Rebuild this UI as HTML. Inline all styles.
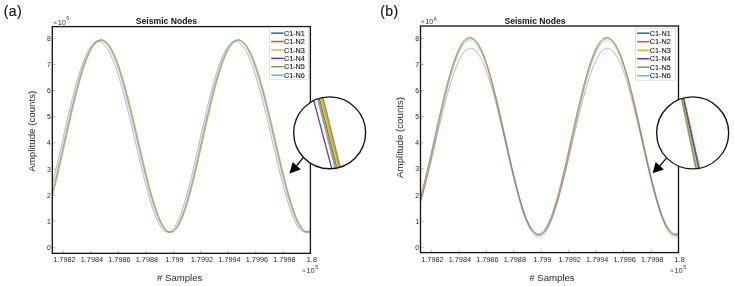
<!DOCTYPE html>
<html><head><meta charset="utf-8"><title>Seismic Nodes</title>
<style>html,body{margin:0;padding:0;background:#fff}svg{display:block;will-change:transform}text{font-family:"Liberation Sans",Arial,Helvetica,sans-serif}</style>
</head><body>
<svg width="734" height="286" viewBox="0 0 734 286">
<rect width="734" height="286" fill="#fff"/>
<g id="plot1">
<clipPath id="ax1"><rect x="52.3" y="26.6" width="258.09999999999997" height="226.75"/></clipPath>
<g clip-path="url(#ax1)" fill="none" stroke-width="0.45" stroke-linejoin="round">
<path d="M47.66 208.39 L48.70 205.12 L49.75 201.67 L50.79 198.06 L51.84 194.30 L52.89 190.38 L53.94 186.33 L54.99 182.16 L56.04 177.86 L57.10 173.46 L58.15 168.97 L59.21 164.40 L60.27 159.75 L61.34 155.04 L62.41 150.29 L63.48 145.49 L64.55 140.68 L65.62 135.85 L66.70 131.03 L67.78 126.22 L68.86 121.43 L69.95 116.68 L71.04 111.98 L72.13 107.34 L73.23 102.77 L74.33 98.28 L75.43 93.90 L76.53 89.61 L77.64 85.45 L78.75 81.41 L79.86 77.52 L80.98 73.77 L82.10 70.18 L83.22 66.75 L84.34 63.50 L85.47 60.43 L86.60 57.56 L87.73 54.88 L88.86 52.41 L90.00 50.15 L91.14 48.10 L92.28 46.28 L93.42 44.69 L94.57 43.32 L95.71 42.19 L96.86 41.30 L98.01 40.65 L99.16 40.24 L100.31 40.07 L101.47 40.14 L102.62 40.46 L103.78 41.02 L104.93 41.82 L106.09 42.85 L107.24 44.12 L108.40 45.63 L109.56 47.36 L110.72 49.32 L111.87 51.49 L113.03 53.88 L114.18 56.48 L115.34 59.28 L116.49 62.27 L117.65 65.45 L118.80 68.81 L119.95 72.34 L121.10 76.03 L122.25 79.87 L123.39 83.85 L124.54 87.97 L125.68 92.20 L126.82 96.55 L127.96 101.00 L129.10 105.53 L130.23 110.15 L131.36 114.83 L132.49 119.56 L133.62 124.33 L134.74 129.14 L135.87 133.96 L136.98 138.79 L138.10 143.61 L139.21 148.41 L140.32 153.18 L141.43 157.91 L142.54 162.58 L143.64 167.19 L144.74 171.71 L145.83 176.15 L146.92 180.49 L148.01 184.71 L149.10 188.81 L150.18 192.78 L151.26 196.60 L152.34 200.28 L153.42 203.79 L154.49 207.13 L155.56 210.29 L156.63 213.26 L157.69 216.04 L158.75 218.61 L159.81 220.98 L160.87 223.13 L161.93 225.06 L162.98 226.77 L164.03 228.25 L165.08 229.50 L166.13 230.51 L167.18 231.28 L168.22 231.81 L169.26 232.10 L170.31 232.15 L171.35 231.96 L172.39 231.52 L173.43 230.84 L174.47 229.92 L175.51 228.77 L176.55 227.38 L177.58 225.76 L178.62 223.92 L179.66 221.85 L180.70 219.56 L181.74 217.07 L182.78 214.37 L183.82 211.47 L184.86 208.39 L185.90 205.12 L186.95 201.67 L187.99 198.06 L189.04 194.30 L190.09 190.38 L191.14 186.33 L192.19 182.16 L193.24 177.86 L194.30 173.46 L195.35 168.97 L196.41 164.40 L197.47 159.75 L198.54 155.04 L199.61 150.29 L200.68 145.49 L201.75 140.68 L202.82 135.85 L203.90 131.03 L204.98 126.22 L206.06 121.43 L207.15 116.68 L208.24 111.98 L209.33 107.34 L210.43 102.77 L211.53 98.28 L212.63 93.90 L213.73 89.61 L214.84 85.45 L215.95 81.41 L217.06 77.52 L218.18 73.77 L219.30 70.18 L220.42 66.75 L221.54 63.50 L222.67 60.43 L223.80 57.56 L224.93 54.88 L226.06 52.41 L227.20 50.15 L228.34 48.10 L229.48 46.28 L230.62 44.69 L231.77 43.32 L232.91 42.19 L234.06 41.30 L235.21 40.65 L236.36 40.24 L237.51 40.07 L238.67 40.14 L239.82 40.46 L240.98 41.02 L242.13 41.82 L243.29 42.85 L244.44 44.12 L245.60 45.63 L246.76 47.36 L247.92 49.32 L249.07 51.49 L250.23 53.88 L251.38 56.48 L252.54 59.28 L253.69 62.27 L254.85 65.45 L256.00 68.81 L257.15 72.34 L258.30 76.03 L259.45 79.87 L260.59 83.85 L261.74 87.97 L262.88 92.20 L264.02 96.55 L265.16 101.00 L266.30 105.53 L267.43 110.15 L268.56 114.83 L269.69 119.56 L270.82 124.33 L271.94 129.14 L273.07 133.96 L274.18 138.79 L275.30 143.61 L276.41 148.41 L277.52 153.18 L278.63 157.91 L279.74 162.58 L280.84 167.19 L281.94 171.71 L283.03 176.15 L284.12 180.49 L285.21 184.71 L286.30 188.81 L287.38 192.78 L288.46 196.60 L289.54 200.28 L290.62 203.79 L291.69 207.13 L292.76 210.29 L293.83 213.26 L294.89 216.04 L295.95 218.61 L297.01 220.98 L298.07 223.13 L299.13 225.06 L300.18 226.77 L301.23 228.25 L302.28 229.50 L303.33 230.51 L304.38 231.28 L305.42 231.81 L306.46 232.10 L307.51 232.15 L308.55 231.96 L309.59 231.52 L310.63 230.84 L311.67 229.92 L312.71 228.77 L313.75 227.38 L314.78 225.76 L315.82 223.92" stroke="#0072BD" stroke-width="0.45"/>
<path d="M47.68 209.53 L48.72 206.33 L49.77 202.95 L50.81 199.40 L51.86 195.69 L52.90 191.83 L53.95 187.83 L55.00 183.69 L56.06 179.44 L57.11 175.08 L58.17 170.62 L59.23 166.07 L60.29 161.45 L61.35 156.76 L62.42 152.02 L63.49 147.24 L64.56 142.44 L65.63 137.61 L66.71 132.79 L67.79 127.97 L68.87 123.17 L69.96 118.40 L71.04 113.68 L72.13 109.02 L73.23 104.42 L74.33 99.91 L75.43 95.48 L76.53 91.16 L77.64 86.95 L78.74 82.87 L79.86 78.92 L80.97 75.12 L82.09 71.47 L83.21 67.98 L84.33 64.66 L85.46 61.53 L86.59 58.58 L87.72 55.83 L88.85 53.28 L89.99 50.94 L91.12 48.82 L92.26 46.92 L93.41 45.24 L94.55 43.79 L95.70 42.58 L96.84 41.60 L97.99 40.86 L99.14 40.36 L100.29 40.10 L101.45 40.09 L102.60 40.32 L103.76 40.79 L104.91 41.50 L106.07 42.45 L107.22 43.63 L108.38 45.05 L109.54 46.70 L110.69 48.58 L111.85 50.68 L113.01 52.99 L114.16 55.51 L115.32 58.24 L116.47 61.16 L117.63 64.27 L118.78 67.57 L119.93 71.03 L121.08 74.67 L122.23 78.45 L123.38 82.38 L124.52 86.45 L125.66 90.65 L126.81 94.95 L127.95 99.37 L129.08 103.87 L130.22 108.46 L131.35 113.12 L132.48 117.83 L133.61 122.59 L134.73 127.39 L135.86 132.20 L136.98 137.03 L138.09 141.85 L139.21 146.66 L140.32 151.45 L141.43 156.19 L142.53 160.89 L143.64 165.52 L144.74 170.07 L145.83 174.54 L146.93 178.92 L148.02 183.19 L149.10 187.33 L150.19 191.35 L151.27 195.23 L152.35 198.96 L153.43 202.53 L154.50 205.93 L155.57 209.16 L156.64 212.20 L157.70 215.05 L158.77 217.70 L159.83 220.14 L160.89 222.37 L161.94 224.39 L163.00 226.18 L164.05 227.74 L165.10 229.07 L166.15 230.17 L167.19 231.03 L168.24 231.65 L169.28 232.03 L170.33 232.16 L171.37 232.05 L172.41 231.71 L173.45 231.12 L174.49 230.29 L175.53 229.22 L176.57 227.91 L177.61 226.38 L178.64 224.61 L179.68 222.63 L180.72 220.42 L181.76 218.00 L182.80 215.38 L183.84 212.55 L184.88 209.53 L185.92 206.33 L186.97 202.95 L188.01 199.40 L189.06 195.69 L190.10 191.83 L191.15 187.83 L192.20 183.69 L193.26 179.44 L194.31 175.08 L195.37 170.62 L196.43 166.07 L197.49 161.45 L198.55 156.76 L199.62 152.02 L200.69 147.24 L201.76 142.44 L202.83 137.61 L203.91 132.79 L204.99 127.97 L206.07 123.17 L207.16 118.40 L208.24 113.68 L209.33 109.02 L210.43 104.42 L211.53 99.91 L212.63 95.48 L213.73 91.16 L214.84 86.95 L215.94 82.87 L217.06 78.92 L218.17 75.12 L219.29 71.47 L220.41 67.98 L221.53 64.66 L222.66 61.53 L223.79 58.58 L224.92 55.83 L226.05 53.28 L227.19 50.94 L228.32 48.82 L229.46 46.92 L230.61 45.24 L231.75 43.79 L232.90 42.58 L234.04 41.60 L235.19 40.86 L236.34 40.36 L237.49 40.10 L238.65 40.09 L239.80 40.32 L240.96 40.79 L242.11 41.50 L243.27 42.45 L244.42 43.63 L245.58 45.05 L246.74 46.70 L247.89 48.58 L249.05 50.68 L250.21 52.99 L251.36 55.51 L252.52 58.24 L253.67 61.16 L254.83 64.27 L255.98 67.57 L257.13 71.03 L258.28 74.67 L259.43 78.45 L260.58 82.38 L261.72 86.45 L262.86 90.65 L264.01 94.95 L265.15 99.37 L266.28 103.87 L267.42 108.46 L268.55 113.12 L269.68 117.83 L270.81 122.59 L271.93 127.39 L273.06 132.20 L274.18 137.03 L275.29 141.85 L276.41 146.66 L277.52 151.45 L278.63 156.19 L279.73 160.89 L280.84 165.52 L281.94 170.07 L283.03 174.54 L284.13 178.92 L285.22 183.19 L286.30 187.33 L287.39 191.35 L288.47 195.23 L289.55 198.96 L290.63 202.53 L291.70 205.93 L292.77 209.16 L293.84 212.20 L294.90 215.05 L295.97 217.70 L297.03 220.14 L298.09 222.37 L299.14 224.39 L300.20 226.18 L301.25 227.74 L302.30 229.07 L303.35 230.17 L304.39 231.03 L305.44 231.65 L306.48 232.03 L307.53 232.16 L308.57 232.05 L309.61 231.71 L310.65 231.12 L311.69 230.29 L312.73 229.22 L313.77 227.91 L314.81 226.38 L315.84 224.61" stroke="#D95319" stroke-width="0.45"/>
<path d="M47.70 210.52 L48.74 207.37 L49.78 204.05 L50.83 200.55 L51.87 196.89 L52.92 193.07 L53.97 189.12 L55.02 185.02 L56.07 180.81 L57.12 176.48 L58.18 172.05 L59.24 167.53 L60.30 162.93 L61.36 158.26 L62.43 153.54 L63.49 148.77 L64.57 143.97 L65.64 139.15 L66.71 134.32 L67.79 129.50 L68.87 124.70 L69.96 119.92 L71.05 115.18 L72.14 110.50 L73.23 105.88 L74.33 101.34 L75.42 96.88 L76.53 92.53 L77.63 88.28 L78.74 84.16 L79.85 80.16 L80.97 76.31 L82.08 72.61 L83.20 69.07 L84.32 65.70 L85.45 62.51 L86.58 59.50 L87.71 56.69 L88.84 54.07 L89.97 51.67 L91.11 49.47 L92.25 47.50 L93.39 45.75 L94.53 44.23 L95.68 42.94 L96.83 41.89 L97.98 41.07 L99.13 40.49 L100.28 40.16 L101.43 40.07 L102.58 40.22 L103.74 40.61 L104.89 41.25 L106.05 42.12 L107.20 43.23 L108.36 44.58 L109.52 46.15 L110.67 47.96 L111.83 49.98 L112.99 52.23 L114.14 54.69 L115.30 57.35 L116.45 60.21 L117.61 63.26 L118.76 66.50 L119.91 69.91 L121.06 73.49 L122.21 77.23 L123.36 81.12 L124.51 85.14 L125.65 89.30 L126.79 93.57 L127.93 97.95 L129.07 102.43 L130.21 106.99 L131.34 111.62 L132.47 116.32 L133.60 121.07 L134.73 125.85 L135.85 130.66 L136.97 135.49 L138.09 140.32 L139.20 145.13 L140.32 149.93 L141.42 154.68 L142.53 159.39 L143.63 164.05 L144.74 168.63 L145.83 173.13 L146.93 177.54 L148.02 181.84 L149.11 186.02 L150.19 190.08 L151.28 194.01 L152.36 197.78 L153.43 201.41 L154.51 204.86 L155.58 208.15 L156.65 211.25 L157.71 214.16 L158.78 216.87 L159.84 219.38 L160.90 221.68 L161.96 223.77 L163.01 225.63 L164.06 227.27 L165.11 228.67 L166.16 229.84 L167.21 230.78 L168.26 231.48 L169.30 231.93 L170.34 232.14 L171.39 232.12 L172.43 231.84 L173.47 231.33 L174.51 230.58 L175.55 229.58 L176.59 228.35 L177.62 226.89 L178.66 225.20 L179.70 223.28 L180.74 221.15 L181.78 218.80 L182.82 216.24 L183.86 213.47 L184.90 210.52 L185.94 207.37 L186.98 204.05 L188.03 200.55 L189.07 196.89 L190.12 193.07 L191.17 189.12 L192.22 185.02 L193.27 180.81 L194.32 176.48 L195.38 172.05 L196.44 167.53 L197.50 162.93 L198.56 158.26 L199.63 153.54 L200.69 148.77 L201.77 143.97 L202.84 139.15 L203.91 134.32 L204.99 129.50 L206.07 124.70 L207.16 119.92 L208.25 115.18 L209.34 110.50 L210.43 105.88 L211.53 101.34 L212.62 96.88 L213.73 92.53 L214.83 88.28 L215.94 84.16 L217.05 80.16 L218.17 76.31 L219.28 72.61 L220.40 69.07 L221.52 65.70 L222.65 62.51 L223.78 59.50 L224.91 56.69 L226.04 54.07 L227.17 51.67 L228.31 49.47 L229.45 47.50 L230.59 45.75 L231.73 44.23 L232.88 42.94 L234.03 41.89 L235.18 41.07 L236.33 40.49 L237.48 40.16 L238.63 40.07 L239.78 40.22 L240.94 40.61 L242.09 41.25 L243.25 42.12 L244.40 43.23 L245.56 44.58 L246.72 46.15 L247.87 47.96 L249.03 49.98 L250.19 52.23 L251.34 54.69 L252.50 57.35 L253.65 60.21 L254.81 63.26 L255.96 66.50 L257.11 69.91 L258.26 73.49 L259.41 77.23 L260.56 81.12 L261.71 85.14 L262.85 89.30 L263.99 93.57 L265.13 97.95 L266.27 102.43 L267.41 106.99 L268.54 111.62 L269.67 116.32 L270.80 121.07 L271.93 125.85 L273.05 130.66 L274.17 135.49 L275.29 140.32 L276.40 145.13 L277.52 149.93 L278.62 154.68 L279.73 159.39 L280.83 164.05 L281.94 168.63 L283.03 173.13 L284.13 177.54 L285.22 181.84 L286.31 186.02 L287.39 190.08 L288.48 194.01 L289.56 197.78 L290.63 201.41 L291.71 204.86 L292.78 208.15 L293.85 211.25 L294.91 214.16 L295.98 216.87 L297.04 219.38 L298.10 221.68 L299.16 223.77 L300.21 225.63 L301.26 227.27 L302.31 228.67 L303.36 229.84 L304.41 230.78 L305.46 231.48 L306.50 231.93 L307.54 232.14 L308.59 232.12 L309.63 231.84 L310.67 231.33 L311.71 230.58 L312.75 229.58 L313.79 228.35 L314.82 226.89 L315.86 225.20" stroke="#EDB120" stroke-width="0.45"/>
<path d="M47.55 201.87 L48.60 198.28 L49.64 194.54 L50.69 190.65 L51.74 186.63 L52.79 182.48 L53.84 178.21 L54.90 173.84 L55.96 169.38 L57.02 164.84 L58.08 160.22 L59.14 155.54 L60.21 150.82 L61.28 146.06 L62.35 141.28 L63.43 136.49 L64.51 131.69 L65.59 126.91 L66.67 122.16 L67.76 117.44 L68.85 112.77 L69.94 108.16 L71.03 103.63 L72.13 99.17 L73.23 94.82 L74.34 90.56 L75.44 86.43 L76.55 82.42 L77.67 78.55 L78.78 74.83 L79.90 71.26 L81.02 67.86 L82.15 64.63 L83.27 61.59 L84.40 58.73 L85.53 56.07 L86.67 53.62 L87.81 51.37 L88.94 49.34 L90.08 47.54 L91.23 45.95 L92.37 44.60 L93.52 43.48 L94.67 42.60 L95.82 41.95 L96.97 41.54 L98.12 41.38 L99.27 41.45 L100.43 41.76 L101.58 42.32 L102.74 43.11 L103.89 44.14 L105.05 45.41 L106.21 46.90 L107.36 48.62 L108.52 50.57 L109.68 52.73 L110.83 55.11 L111.99 57.69 L113.14 60.47 L114.30 63.44 L115.45 66.60 L116.60 69.94 L117.75 73.44 L118.90 77.11 L120.05 80.92 L121.20 84.88 L122.34 88.96 L123.49 93.17 L124.63 97.49 L125.77 101.91 L126.90 106.41 L128.04 111.00 L129.17 115.64 L130.30 120.35 L131.42 125.09 L132.55 129.86 L133.67 134.65 L134.79 139.44 L135.91 144.23 L137.02 149.00 L138.13 153.74 L139.24 158.43 L140.34 163.07 L141.44 167.65 L142.54 172.14 L143.64 176.55 L144.73 180.86 L145.82 185.05 L146.90 189.12 L147.99 193.06 L149.07 196.86 L150.15 200.51 L151.22 203.99 L152.29 207.31 L153.36 210.45 L154.43 213.40 L155.50 216.16 L156.56 218.71 L157.62 221.06 L158.68 223.20 L159.73 225.12 L160.78 226.82 L161.84 228.28 L162.89 229.52 L163.93 230.52 L164.98 231.29 L166.03 231.82 L167.07 232.10 L168.11 232.15 L169.15 231.96 L170.19 231.52 L171.23 230.85 L172.27 229.93 L173.31 228.79 L174.35 227.41 L175.39 225.80 L176.43 223.96 L177.47 221.91 L178.50 219.64 L179.54 217.16 L180.58 214.48 L181.62 211.60 L182.66 208.53 L183.71 205.29 L184.75 201.87 L185.80 198.28 L186.84 194.54 L187.89 190.65 L188.94 186.63 L189.99 182.48 L191.04 178.21 L192.10 173.84 L193.16 169.38 L194.22 164.84 L195.28 160.22 L196.34 155.54 L197.41 150.82 L198.48 146.06 L199.55 141.28 L200.63 136.49 L201.71 131.69 L202.79 126.91 L203.87 122.16 L204.96 117.44 L206.05 112.77 L207.14 108.16 L208.23 103.63 L209.33 99.17 L210.43 94.82 L211.54 90.56 L212.64 86.43 L213.75 82.42 L214.87 78.55 L215.98 74.83 L217.10 71.26 L218.22 67.86 L219.35 64.63 L220.47 61.59 L221.60 58.73 L222.73 56.07 L223.87 53.62 L225.01 51.37 L226.14 49.34 L227.28 47.54 L228.43 45.95 L229.57 44.60 L230.72 43.48 L231.87 42.60 L233.02 41.95 L234.17 41.54 L235.32 41.38 L236.47 41.45 L237.63 41.76 L238.78 42.32 L239.94 43.11 L241.09 44.14 L242.25 45.41 L243.41 46.90 L244.56 48.62 L245.72 50.57 L246.88 52.73 L248.03 55.11 L249.19 57.69 L250.34 60.47 L251.50 63.44 L252.65 66.60 L253.80 69.94 L254.95 73.44 L256.10 77.11 L257.25 80.92 L258.40 84.88 L259.54 88.96 L260.69 93.17 L261.83 97.49 L262.97 101.91 L264.10 106.41 L265.24 111.00 L266.37 115.64 L267.50 120.35 L268.62 125.09 L269.75 129.86 L270.87 134.65 L271.99 139.44 L273.11 144.23 L274.22 149.00 L275.33 153.74 L276.44 158.43 L277.54 163.07 L278.64 167.65 L279.74 172.14 L280.84 176.55 L281.93 180.86 L283.02 185.05 L284.10 189.12 L285.19 193.06 L286.27 196.86 L287.35 200.51 L288.42 203.99 L289.49 207.31 L290.56 210.45 L291.63 213.40 L292.70 216.16 L293.76 218.71 L294.82 221.06 L295.88 223.20 L296.93 225.12 L297.98 226.82 L299.04 228.28 L300.09 229.52 L301.13 230.52 L302.18 231.29 L303.23 231.82 L304.27 232.10 L305.31 232.15 L306.35 231.96 L307.39 231.52 L308.43 230.85 L309.47 229.93 L310.51 228.79 L311.55 227.41 L312.59 225.80 L313.63 223.96 L314.67 221.91 L315.70 219.64" stroke="#7E2F8E" stroke-width="0.42"/>
<path d="M47.71 211.55 L48.76 208.45 L49.80 205.16 L50.84 201.70 L51.89 198.07 L52.93 194.29 L53.98 190.36 L55.03 186.29 L56.08 182.10 L57.14 177.79 L58.19 173.37 L59.25 168.86 L60.31 164.27 L61.37 159.61 L62.44 154.89 L63.50 150.12 L64.57 145.31 L65.64 140.48 L66.72 135.64 L67.80 130.80 L68.88 125.98 L69.96 121.18 L71.05 116.42 L72.14 111.71 L73.23 107.06 L74.33 102.48 L75.42 97.99 L76.53 93.59 L77.63 89.30 L78.74 85.13 L79.85 81.09 L80.96 77.19 L82.08 73.44 L83.20 69.84 L84.32 66.42 L85.44 63.16 L86.57 60.10 L87.70 57.22 L88.83 54.55 L89.96 52.08 L91.10 49.82 L92.24 47.78 L93.38 45.96 L94.52 44.37 L95.67 43.02 L96.81 41.90 L97.96 41.01 L99.11 40.37 L100.26 39.97 L101.41 39.81 L102.57 39.89 L103.72 40.22 L104.88 40.79 L106.03 41.60 L107.19 42.65 L108.34 43.94 L109.50 45.45 L110.66 47.20 L111.82 49.17 L112.97 51.36 L114.13 53.77 L115.28 56.38 L116.44 59.20 L117.59 62.21 L118.75 65.40 L119.90 68.78 L121.05 72.32 L122.20 76.03 L123.35 79.89 L124.49 83.89 L125.64 88.02 L126.78 92.27 L127.92 96.64 L129.06 101.10 L130.20 105.65 L131.33 110.28 L132.46 114.97 L133.59 119.72 L134.72 124.51 L135.84 129.33 L136.96 134.16 L138.08 139.01 L139.20 143.84 L140.31 148.65 L141.42 153.43 L142.53 158.17 L143.63 162.85 L144.73 167.47 L145.83 172.01 L146.93 176.45 L148.02 180.79 L149.11 185.02 L150.20 189.13 L151.28 193.10 L152.36 196.93 L153.44 200.61 L154.51 204.12 L155.59 207.46 L156.66 210.62 L157.72 213.59 L158.79 216.37 L159.85 218.94 L160.91 221.31 L161.97 223.46 L163.02 225.39 L164.08 227.09 L165.13 228.56 L166.18 229.80 L167.22 230.80 L168.27 231.57 L169.32 232.09 L170.36 232.37 L171.40 232.41 L172.44 232.20 L173.48 231.75 L174.52 231.06 L175.56 230.13 L176.60 228.96 L177.64 227.56 L178.68 225.93 L179.72 224.07 L180.76 221.99 L181.79 219.69 L182.83 217.18 L183.87 214.46 L184.91 211.55 L185.96 208.45 L187.00 205.16 L188.04 201.70 L189.09 198.07 L190.13 194.29 L191.18 190.36 L192.23 186.29 L193.28 182.10 L194.34 177.79 L195.39 173.37 L196.45 168.86 L197.51 164.27 L198.57 159.61 L199.64 154.89 L200.70 150.12 L201.77 145.31 L202.84 140.48 L203.92 135.64 L205.00 130.80 L206.08 125.98 L207.16 121.18 L208.25 116.42 L209.34 111.71 L210.43 107.06 L211.53 102.48 L212.62 97.99 L213.73 93.59 L214.83 89.30 L215.94 85.13 L217.05 81.09 L218.16 77.19 L219.28 73.44 L220.40 69.84 L221.52 66.42 L222.64 63.16 L223.77 60.10 L224.90 57.22 L226.03 54.55 L227.16 52.08 L228.30 49.82 L229.44 47.78 L230.58 45.96 L231.72 44.37 L232.87 43.02 L234.01 41.90 L235.16 41.01 L236.31 40.37 L237.46 39.97 L238.61 39.81 L239.77 39.89 L240.92 40.22 L242.08 40.79 L243.23 41.60 L244.39 42.65 L245.54 43.94 L246.70 45.45 L247.86 47.20 L249.02 49.17 L250.17 51.36 L251.33 53.77 L252.48 56.38 L253.64 59.20 L254.79 62.21 L255.95 65.40 L257.10 68.78 L258.25 72.32 L259.40 76.03 L260.55 79.89 L261.69 83.89 L262.84 88.02 L263.98 92.27 L265.12 96.64 L266.26 101.10 L267.40 105.65 L268.53 110.28 L269.66 114.97 L270.79 119.72 L271.92 124.51 L273.04 129.33 L274.16 134.16 L275.28 139.01 L276.40 143.84 L277.51 148.65 L278.62 153.43 L279.73 158.17 L280.83 162.85 L281.93 167.47 L283.03 172.01 L284.13 176.45 L285.22 180.79 L286.31 185.02 L287.40 189.13 L288.48 193.10 L289.56 196.93 L290.64 200.61 L291.71 204.12 L292.79 207.46 L293.86 210.62 L294.92 213.59 L295.99 216.37 L297.05 218.94 L298.11 221.31 L299.17 223.46 L300.22 225.39 L301.28 227.09 L302.33 228.56 L303.38 229.80 L304.42 230.80 L305.47 231.57 L306.52 232.09 L307.56 232.37 L308.60 232.41 L309.64 232.20 L310.68 231.75 L311.72 231.06 L312.76 230.13 L313.80 228.96 L314.84 227.56 L315.88 225.93" stroke="#77AC30" stroke-width="0.45"/>
<path d="M47.62 206.02 L48.66 202.62 L49.71 199.06 L50.75 195.33 L51.80 191.46 L52.85 187.45 L53.90 183.30 L54.95 179.04 L56.01 174.67 L57.07 170.20 L58.12 165.64 L59.19 161.01 L60.25 156.32 L61.32 151.58 L62.39 146.80 L63.46 141.99 L64.53 137.16 L65.61 132.34 L66.69 127.52 L67.77 122.72 L68.86 117.96 L69.95 113.24 L71.04 108.59 L72.13 104.00 L73.23 99.49 L74.33 95.08 L75.43 90.76 L76.54 86.57 L77.65 82.50 L78.76 78.56 L79.88 74.77 L80.99 71.13 L82.11 67.66 L83.24 64.36 L84.36 61.24 L85.49 58.32 L86.62 55.58 L87.76 53.06 L88.89 50.74 L90.03 48.63 L91.17 46.75 L92.31 45.10 L93.46 43.67 L94.60 42.48 L95.75 41.52 L96.90 40.80 L98.05 40.33 L99.20 40.09 L100.35 40.10 L101.51 40.35 L102.66 40.84 L103.82 41.58 L104.97 42.55 L106.13 43.76 L107.29 45.20 L108.44 46.87 L109.60 48.77 L110.76 50.88 L111.91 53.22 L113.07 55.76 L114.23 58.50 L115.38 61.44 L116.53 64.57 L117.69 67.88 L118.84 71.37 L119.99 75.01 L121.14 78.81 L122.28 82.76 L123.43 86.84 L124.57 91.04 L125.71 95.36 L126.85 99.78 L127.99 104.30 L129.12 108.89 L130.26 113.55 L131.39 118.27 L132.51 123.04 L133.64 127.83 L134.76 132.65 L135.88 137.48 L137.00 142.30 L138.11 147.11 L139.22 151.89 L140.33 156.63 L141.44 161.32 L142.54 165.95 L143.64 170.49 L144.73 174.96 L145.83 179.32 L146.92 183.58 L148.01 187.71 L149.09 191.72 L150.17 195.58 L151.25 199.30 L152.33 202.85 L153.40 206.24 L154.47 209.45 L155.54 212.47 L156.60 215.30 L157.67 217.93 L158.73 220.36 L159.78 222.57 L160.84 224.56 L161.89 226.33 L162.95 227.87 L164.00 229.18 L165.05 230.26 L166.09 231.10 L167.14 231.69 L168.18 232.05 L169.22 232.16 L170.27 232.03 L171.31 231.66 L172.35 231.05 L173.39 230.20 L174.43 229.10 L175.46 227.78 L176.50 226.22 L177.54 224.44 L178.58 222.43 L179.62 220.21 L180.66 217.77 L181.70 215.12 L182.74 212.28 L183.78 209.24 L184.82 206.02 L185.86 202.62 L186.91 199.06 L187.95 195.33 L189.00 191.46 L190.05 187.45 L191.10 183.30 L192.15 179.04 L193.21 174.67 L194.27 170.20 L195.32 165.64 L196.39 161.01 L197.45 156.32 L198.52 151.58 L199.59 146.80 L200.66 141.99 L201.73 137.16 L202.81 132.34 L203.89 127.52 L204.97 122.72 L206.06 117.96 L207.15 113.24 L208.24 108.59 L209.33 104.00 L210.43 99.49 L211.53 95.08 L212.63 90.76 L213.74 86.57 L214.85 82.50 L215.96 78.56 L217.08 74.77 L218.19 71.13 L219.31 67.66 L220.44 64.36 L221.56 61.24 L222.69 58.32 L223.82 55.58 L224.96 53.06 L226.09 50.74 L227.23 48.63 L228.37 46.75 L229.51 45.10 L230.66 43.67 L231.80 42.48 L232.95 41.52 L234.10 40.80 L235.25 40.33 L236.40 40.09 L237.55 40.10 L238.71 40.35 L239.86 40.84 L241.02 41.58 L242.17 42.55 L243.33 43.76 L244.49 45.20 L245.64 46.87 L246.80 48.77 L247.96 50.88 L249.11 53.22 L250.27 55.76 L251.43 58.50 L252.58 61.44 L253.73 64.57 L254.89 67.88 L256.04 71.37 L257.19 75.01 L258.34 78.81 L259.48 82.76 L260.63 86.84 L261.77 91.04 L262.91 95.36 L264.05 99.78 L265.19 104.30 L266.32 108.89 L267.46 113.55 L268.59 118.27 L269.71 123.04 L270.84 127.83 L271.96 132.65 L273.08 137.48 L274.20 142.30 L275.31 147.11 L276.42 151.89 L277.53 156.63 L278.64 161.32 L279.74 165.95 L280.84 170.49 L281.93 174.96 L283.03 179.32 L284.12 183.58 L285.21 187.71 L286.29 191.72 L287.37 195.58 L288.45 199.30 L289.53 202.85 L290.60 206.24 L291.67 209.45 L292.74 212.47 L293.80 215.30 L294.87 217.93 L295.93 220.36 L296.98 222.57 L298.04 224.56 L299.09 226.33 L300.15 227.87 L301.20 229.18 L302.25 230.26 L303.29 231.10 L304.34 231.69 L305.38 232.05 L306.42 232.16 L307.47 232.03 L308.51 231.66 L309.55 231.05 L310.59 230.20 L311.63 229.10 L312.66 227.78 L313.70 226.22 L314.74 224.44 L315.78 222.43" stroke="#4DBEEE" stroke-width="0.38"/>
</g>
<path d="M52.3 247.30h3.4 M52.3 221.20h3.4 M52.3 195.10h3.4 M52.3 169.00h3.4 M52.3 142.90h3.4 M52.3 116.80h3.4 M52.3 90.70h3.4 M52.3 64.60h3.4 M52.3 38.50h3.4 M63.30 253.35v-3.2 M90.80 253.35v-3.2 M118.30 253.35v-3.2 M145.80 253.35v-3.2 M173.30 253.35v-3.2 M200.80 253.35v-3.2 M228.30 253.35v-3.2 M255.80 253.35v-3.2 M283.30 253.35v-3.2" stroke="#777" stroke-width="0.45" fill="none"/>
<rect x="52.3" y="26.6" width="258.09999999999997" height="226.75" fill="none" stroke="#161616" stroke-width="1.35"/>
<text x="50.80" y="249.80" font-size="6.9" text-anchor="end" fill="#262626">0</text>
<text x="50.80" y="223.70" font-size="6.9" text-anchor="end" fill="#262626">1</text>
<text x="50.80" y="197.60" font-size="6.9" text-anchor="end" fill="#262626">2</text>
<text x="50.80" y="171.50" font-size="6.9" text-anchor="end" fill="#262626">3</text>
<text x="50.80" y="145.40" font-size="6.9" text-anchor="end" fill="#262626">4</text>
<text x="50.80" y="119.30" font-size="6.9" text-anchor="end" fill="#262626">5</text>
<text x="50.80" y="93.20" font-size="6.9" text-anchor="end" fill="#262626">6</text>
<text x="50.80" y="67.10" font-size="6.9" text-anchor="end" fill="#262626">7</text>
<text x="50.80" y="41.00" font-size="6.9" text-anchor="end" fill="#262626">8</text>
<text x="64.40" y="262.0" font-size="7.3" text-anchor="middle" fill="#262626">1.7982</text>
<text x="91.90" y="262.0" font-size="7.3" text-anchor="middle" fill="#262626">1.7984</text>
<text x="119.40" y="262.0" font-size="7.3" text-anchor="middle" fill="#262626">1.7986</text>
<text x="146.90" y="262.0" font-size="7.3" text-anchor="middle" fill="#262626">1.7988</text>
<text x="174.40" y="262.0" font-size="7.3" text-anchor="middle" fill="#262626">1.799</text>
<text x="201.90" y="262.0" font-size="7.3" text-anchor="middle" fill="#262626">1.7992</text>
<text x="229.40" y="262.0" font-size="7.3" text-anchor="middle" fill="#262626">1.7994</text>
<text x="256.90" y="262.0" font-size="7.3" text-anchor="middle" fill="#262626">1.7996</text>
<text x="284.40" y="262.0" font-size="7.3" text-anchor="middle" fill="#262626">1.7998</text>
<text x="311.90" y="262.0" font-size="7.3" text-anchor="middle" fill="#262626">1.8</text>
<text x="53.0" y="24.75" font-size="7.4" fill="#333"><tspan fill="#666">×</tspan><tspan dx="0.3">10</tspan><tspan dx="0.4" dy="-4.5" font-size="5.3">6</tspan></text>
<text x="301.8" y="273.0" font-size="7.4" fill="#333"><tspan fill="#666">×</tspan><tspan dx="0.3">10</tspan><tspan dx="0.6" dy="-3.6" font-size="5.3">5</tspan></text>
<text x="166.4" y="23.75" font-size="8.6" font-weight="bold" text-anchor="middle" fill="#111">Seismic Nodes</text>
<text x="179.7" y="280.5" font-size="9.6" text-anchor="middle" fill="#262626"># Samples</text>
<text transform="translate(35.0 131.2) rotate(-90)" font-size="9.72" text-anchor="middle" fill="#262626">Amplitude (counts)</text>
<rect x="269.5" y="27.5" width="39.10000000000002" height="52.0" fill="#fff" stroke="#cfcfcf" stroke-width="0.6"/>
<path d="M271.20 33.15H283.50" stroke="#0072BD" stroke-width="1.5" fill="none"/>
<text x="283.90" y="35.70" font-size="7.25" fill="#111" stroke="#111" stroke-width="0.1">C1-N1</text>
<path d="M271.20 41.55H283.50" stroke="#D95319" stroke-width="1.5" fill="none"/>
<text x="283.90" y="44.10" font-size="7.25" fill="#111" stroke="#111" stroke-width="0.1">C1-N2</text>
<path d="M271.20 49.95H283.50" stroke="#EDB120" stroke-width="1.5" fill="none"/>
<text x="283.90" y="52.50" font-size="7.25" fill="#111" stroke="#111" stroke-width="0.1">C1-N3</text>
<path d="M271.20 58.35H283.50" stroke="#7E2F8E" stroke-width="1.5" fill="none"/>
<text x="283.90" y="60.90" font-size="7.25" fill="#111" stroke="#111" stroke-width="0.1">C1-N4</text>
<path d="M271.20 66.75H283.50" stroke="#77AC30" stroke-width="1.5" fill="none"/>
<text x="283.90" y="69.30" font-size="7.25" fill="#111" stroke="#111" stroke-width="0.1">C1-N5</text>
<path d="M271.20 75.15H283.50" stroke="#4DBEEE" stroke-width="1.5" fill="none"/>
<text x="283.90" y="77.70" font-size="7.25" fill="#111" stroke="#111" stroke-width="0.1">C1-N6</text>
<circle cx="329.65" cy="132.8" r="35.95" fill="#fff" stroke="none"/>
<clipPath id="mg1"><circle cx="329.65" cy="132.8" r="35.95"/></clipPath>
<g clip-path="url(#mg1)" fill="none" stroke-width="1.2">
<path d="M310.82 70.00L346.98 213.00" stroke="#0072BD" stroke-width="0.8"/>
<path d="M314.21 70.00L350.09 213.00" stroke="#EDB120" stroke-width="1.8"/>
<path d="M312.12 70.00L348.28 213.00" stroke="#D95319" stroke-width="1.35"/>
<path d="M305.71 70.00L343.49 213.00" stroke="#7E2F8E" stroke-width="1.3"/>
<path d="M315.98 70.00L351.32 213.00" stroke="#77AC30" stroke-width="1.7"/>
<path d="M310.51 70.00L346.39 213.00" stroke="#4DBEEE" stroke-width="1.5"/>
</g>
<circle cx="329.65" cy="132.8" r="35.95" fill="none" stroke="#111" stroke-width="1.35"/>
<path d="M303.1 157.6L296.75 165.75" stroke="#000" stroke-width="1.25" fill="none"/>
<path d="M289.4 173.5L292.7 162.0L300.8 169.5Z" fill="#000"/>
<text x="3.7" y="15.6" font-size="14" letter-spacing="0.42" fill="#111" stroke="#111" stroke-width="0.15">(a)</text>
</g>
<g id="plot2">
<clipPath id="ax2"><rect x="420.5" y="26.0" width="258.0" height="226.6"/></clipPath>
<g clip-path="url(#ax2)" fill="none" stroke-width="0.45" stroke-linejoin="round">
<path d="M415.41 217.01 L416.48 214.00 L417.56 210.80 L418.63 207.42 L419.71 203.86 L420.79 200.13 L421.87 196.24 L422.95 192.21 L424.03 188.03 L425.12 183.73 L426.20 179.30 L427.29 174.77 L428.37 170.15 L429.46 165.44 L430.55 160.67 L431.64 155.83 L432.73 150.94 L433.82 146.02 L434.91 141.08 L436.01 136.13 L437.10 131.18 L438.20 126.25 L439.30 121.34 L440.40 116.48 L441.50 111.66 L442.60 106.91 L443.71 102.24 L444.81 97.66 L445.92 93.17 L447.03 88.80 L448.13 84.55 L449.24 80.43 L450.35 76.45 L451.46 72.63 L452.58 68.97 L453.69 65.49 L454.80 62.18 L455.92 59.07 L457.03 56.15 L458.15 53.44 L459.27 50.94 L460.38 48.65 L461.50 46.59 L462.62 44.76 L463.74 43.16 L464.86 41.80 L465.98 40.68 L467.10 39.81 L468.22 39.18 L469.34 38.79 L470.46 38.66 L471.58 38.78 L472.70 39.14 L473.82 39.75 L474.94 40.61 L476.06 41.71 L477.18 43.05 L478.30 44.64 L479.42 46.45 L480.53 48.49 L481.65 50.76 L482.77 53.25 L483.89 55.95 L485.00 58.85 L486.12 61.95 L487.23 65.24 L488.34 68.71 L489.45 72.36 L490.57 76.17 L491.68 80.13 L492.79 84.24 L493.89 88.48 L495.00 92.85 L496.11 97.33 L497.21 101.90 L498.32 106.57 L499.42 111.31 L500.52 116.12 L501.62 120.99 L502.72 125.89 L503.81 130.82 L504.91 135.77 L506.01 140.72 L507.10 145.66 L508.19 150.59 L509.28 155.47 L510.37 160.31 L511.46 165.10 L512.55 169.81 L513.64 174.44 L514.72 178.98 L515.80 183.41 L516.89 187.72 L517.97 191.91 L519.05 195.95 L520.13 199.85 L521.21 203.59 L522.29 207.17 L523.36 210.56 L524.44 213.77 L525.51 216.79 L526.59 219.61 L527.66 222.22 L528.74 224.61 L529.81 226.78 L530.88 228.73 L531.95 230.45 L533.02 231.93 L534.09 233.17 L535.17 234.16 L536.24 234.92 L537.31 235.42 L538.38 235.68 L539.45 235.69 L540.52 235.45 L541.59 234.96 L542.66 234.23 L543.73 233.25 L544.80 232.02 L545.87 230.56 L546.94 228.86 L548.01 226.93 L549.09 224.78 L550.16 222.40 L551.23 219.81 L552.31 217.01 L553.38 214.00 L554.46 210.80 L555.53 207.42 L556.61 203.86 L557.69 200.13 L558.77 196.24 L559.85 192.21 L560.93 188.03 L562.02 183.73 L563.10 179.30 L564.19 174.77 L565.27 170.15 L566.36 165.44 L567.45 160.67 L568.54 155.83 L569.63 150.94 L570.72 146.02 L571.81 141.08 L572.91 136.13 L574.00 131.18 L575.10 126.25 L576.20 121.34 L577.30 116.48 L578.40 111.66 L579.50 106.91 L580.61 102.24 L581.71 97.66 L582.82 93.17 L583.93 88.80 L585.03 84.55 L586.14 80.43 L587.25 76.45 L588.36 72.63 L589.48 68.97 L590.59 65.49 L591.70 62.18 L592.82 59.07 L593.93 56.15 L595.05 53.44 L596.17 50.94 L597.28 48.65 L598.40 46.59 L599.52 44.76 L600.64 43.16 L601.76 41.80 L602.88 40.68 L604.00 39.81 L605.12 39.18 L606.24 38.79 L607.36 38.66 L608.48 38.78 L609.60 39.14 L610.72 39.75 L611.84 40.61 L612.96 41.71 L614.08 43.05 L615.20 44.64 L616.32 46.45 L617.43 48.49 L618.55 50.76 L619.67 53.25 L620.79 55.95 L621.90 58.85 L623.02 61.95 L624.13 65.24 L625.24 68.71 L626.35 72.36 L627.47 76.17 L628.58 80.13 L629.69 84.24 L630.79 88.48 L631.90 92.85 L633.01 97.33 L634.11 101.90 L635.22 106.57 L636.32 111.31 L637.42 116.12 L638.52 120.99 L639.62 125.89 L640.71 130.82 L641.81 135.77 L642.91 140.72 L644.00 145.66 L645.09 150.59 L646.18 155.47 L647.27 160.31 L648.36 165.10 L649.45 169.81 L650.54 174.44 L651.62 178.98 L652.70 183.41 L653.79 187.72 L654.87 191.91 L655.95 195.95 L657.03 199.85 L658.11 203.59 L659.19 207.17 L660.26 210.56 L661.34 213.77 L662.41 216.79 L663.49 219.61 L664.56 222.22 L665.64 224.61 L666.71 226.78 L667.78 228.73 L668.85 230.45 L669.92 231.93 L670.99 233.17 L672.07 234.16 L673.14 234.92 L674.21 235.42 L675.28 235.68 L676.35 235.69 L677.42 235.45 L678.49 234.96 L679.56 234.23 L680.63 233.25 L681.70 232.02 L682.77 230.56" stroke="#0072BD" stroke-width="0.45"/>
<path d="M415.40 218.29 L416.48 215.23 L417.55 211.98 L418.63 208.55 L419.71 204.94 L420.79 201.17 L421.87 197.24 L422.95 193.16 L424.03 188.95 L425.11 184.61 L426.20 180.16 L427.28 175.60 L428.37 170.96 L429.46 166.23 L430.55 161.43 L431.64 156.58 L432.73 151.69 L433.82 146.76 L434.91 141.81 L436.01 136.86 L437.11 131.92 L438.20 126.99 L439.30 122.09 L440.40 117.24 L441.50 112.44 L442.61 107.71 L443.71 103.06 L444.82 98.51 L445.92 94.05 L447.03 89.71 L448.14 85.49 L449.25 81.41 L450.36 77.48 L451.47 73.70 L452.58 70.09 L453.69 66.65 L454.81 63.40 L455.92 60.34 L457.04 57.47 L458.16 54.82 L459.27 52.38 L460.39 50.15 L461.51 48.15 L462.63 46.39 L463.75 44.85 L464.87 43.56 L465.99 42.51 L467.11 41.70 L468.23 41.14 L469.35 40.82 L470.47 40.76 L471.59 40.94 L472.71 41.37 L473.83 42.05 L474.95 42.98 L476.07 44.14 L477.19 45.55 L478.30 47.20 L479.42 49.07 L480.54 51.18 L481.66 53.51 L482.77 56.05 L483.89 58.81 L485.01 61.77 L486.12 64.92 L487.23 68.26 L488.35 71.78 L489.46 75.48 L490.57 79.33 L491.68 83.33 L492.79 87.48 L493.90 91.76 L495.00 96.15 L496.11 100.66 L497.21 105.26 L498.32 109.95 L499.42 114.71 L500.52 119.54 L501.62 124.41 L502.72 129.33 L503.82 134.26 L504.91 139.21 L506.01 144.16 L507.10 149.10 L508.19 154.02 L509.28 158.89 L510.37 163.72 L511.46 168.48 L512.55 173.17 L513.63 177.78 L514.72 182.29 L515.80 186.69 L516.88 190.97 L517.97 195.12 L519.05 199.12 L520.13 202.98 L521.20 206.68 L522.28 210.20 L523.36 213.55 L524.43 216.71 L525.51 219.67 L526.58 222.43 L527.66 224.98 L528.73 227.32 L529.80 229.43 L530.87 231.31 L531.95 232.96 L533.02 234.38 L534.09 235.55 L535.16 236.48 L536.23 237.17 L537.30 237.61 L538.37 237.80 L539.44 237.74 L540.51 237.43 L541.58 236.87 L542.65 236.07 L543.72 235.02 L544.79 233.74 L545.86 232.21 L546.93 230.45 L548.01 228.45 L549.08 226.24 L550.15 223.80 L551.23 221.15 L552.30 218.29 L553.38 215.23 L554.45 211.98 L555.53 208.55 L556.61 204.94 L557.69 201.17 L558.77 197.24 L559.85 193.16 L560.93 188.95 L562.01 184.61 L563.10 180.16 L564.18 175.60 L565.27 170.96 L566.36 166.23 L567.45 161.43 L568.54 156.58 L569.63 151.69 L570.72 146.76 L571.81 141.81 L572.91 136.86 L574.01 131.92 L575.10 126.99 L576.20 122.09 L577.30 117.24 L578.40 112.44 L579.51 107.71 L580.61 103.06 L581.72 98.51 L582.82 94.05 L583.93 89.71 L585.04 85.49 L586.15 81.41 L587.26 77.48 L588.37 73.70 L589.48 70.09 L590.59 66.65 L591.71 63.40 L592.82 60.34 L593.94 57.47 L595.06 54.82 L596.17 52.38 L597.29 50.15 L598.41 48.15 L599.53 46.39 L600.65 44.85 L601.77 43.56 L602.89 42.51 L604.01 41.70 L605.13 41.14 L606.25 40.82 L607.37 40.76 L608.49 40.94 L609.61 41.37 L610.73 42.05 L611.85 42.98 L612.97 44.14 L614.09 45.55 L615.20 47.20 L616.32 49.07 L617.44 51.18 L618.56 53.51 L619.67 56.05 L620.79 58.81 L621.91 61.77 L623.02 64.92 L624.13 68.26 L625.25 71.78 L626.36 75.48 L627.47 79.33 L628.58 83.33 L629.69 87.48 L630.80 91.76 L631.90 96.15 L633.01 100.66 L634.11 105.26 L635.22 109.95 L636.32 114.71 L637.42 119.54 L638.52 124.41 L639.62 129.33 L640.72 134.26 L641.81 139.21 L642.91 144.16 L644.00 149.10 L645.09 154.02 L646.18 158.89 L647.27 163.72 L648.36 168.48 L649.45 173.17 L650.53 177.78 L651.62 182.29 L652.70 186.69 L653.78 190.97 L654.87 195.12 L655.95 199.12 L657.03 202.98 L658.10 206.68 L659.18 210.20 L660.26 213.55 L661.33 216.71 L662.41 219.67 L663.48 222.43 L664.56 224.98 L665.63 227.32 L666.70 229.43 L667.77 231.31 L668.85 232.96 L669.92 234.38 L670.99 235.55 L672.06 236.48 L673.13 237.17 L674.20 237.61 L675.27 237.80 L676.34 237.74 L677.41 237.43 L678.48 236.87 L679.55 236.07 L680.62 235.02 L681.69 233.74 L682.76 232.21" stroke="#4DBEEE" stroke-width="0.4"/>
<path d="M415.40 214.57 L416.47 211.46 L417.55 208.16 L418.63 204.67 L419.70 201.01 L420.78 197.19 L421.86 193.21 L422.94 189.09 L424.03 184.84 L425.11 180.46 L426.19 175.97 L427.28 171.39 L428.37 166.71 L429.45 161.95 L430.54 157.14 L431.63 152.27 L432.73 147.35 L433.82 142.41 L434.91 137.46 L436.01 132.50 L437.11 127.55 L438.20 122.63 L439.30 117.73 L440.40 112.89 L441.51 108.10 L442.61 103.39 L443.71 98.75 L444.82 94.22 L445.92 89.79 L447.03 85.47 L448.14 81.29 L449.25 77.24 L450.36 73.34 L451.47 69.61 L452.59 66.04 L453.70 62.64 L454.81 59.44 L455.93 56.43 L457.04 53.62 L458.16 51.01 L459.28 48.63 L460.40 46.46 L461.51 44.52 L462.63 42.82 L463.75 41.35 L464.87 40.12 L465.99 39.13 L467.11 38.39 L468.23 37.89 L469.35 37.65 L470.47 37.65 L471.59 37.90 L472.71 38.40 L473.83 39.15 L474.95 40.14 L476.07 41.38 L477.19 42.85 L478.31 44.57 L479.43 46.51 L480.55 48.68 L481.66 51.07 L482.78 53.68 L483.90 56.49 L485.01 59.51 L486.13 62.72 L487.24 66.12 L488.35 69.69 L489.46 73.43 L490.57 77.33 L491.68 81.38 L492.79 85.57 L493.90 89.89 L495.01 94.32 L496.11 98.86 L497.22 103.49 L498.32 108.21 L499.42 113.00 L500.52 117.84 L501.62 122.74 L502.72 127.66 L503.82 132.61 L504.91 137.57 L506.01 142.53 L507.10 147.46 L508.19 152.38 L509.28 157.25 L510.37 162.06 L511.46 166.82 L512.54 171.49 L513.63 176.08 L514.71 180.56 L515.80 184.94 L516.88 189.19 L517.96 193.30 L519.04 197.28 L520.12 201.09 L521.20 204.75 L522.28 208.23 L523.35 211.53 L524.43 214.64 L525.50 217.55 L526.58 220.26 L527.65 222.76 L528.72 225.03 L529.80 227.09 L530.87 228.91 L531.94 230.50 L533.01 231.85 L534.08 232.96 L535.15 233.82 L536.22 234.44 L537.29 234.81 L538.36 234.93 L539.43 234.81 L540.50 234.43 L541.57 233.80 L542.64 232.93 L543.71 231.82 L544.78 230.46 L545.86 228.87 L546.93 227.04 L548.00 224.98 L549.07 222.70 L550.15 220.20 L551.22 217.49 L552.30 214.57 L553.37 211.46 L554.45 208.16 L555.53 204.67 L556.60 201.01 L557.68 197.19 L558.76 193.21 L559.84 189.09 L560.93 184.84 L562.01 180.46 L563.09 175.97 L564.18 171.39 L565.27 166.71 L566.35 161.95 L567.44 157.14 L568.53 152.27 L569.63 147.35 L570.72 142.41 L571.81 137.46 L572.91 132.50 L574.01 127.55 L575.10 122.63 L576.20 117.73 L577.30 112.89 L578.41 108.10 L579.51 103.39 L580.61 98.75 L581.72 94.22 L582.82 89.79 L583.93 85.47 L585.04 81.29 L586.15 77.24 L587.26 73.34 L588.37 69.61 L589.49 66.04 L590.60 62.64 L591.71 59.44 L592.83 56.43 L593.94 53.62 L595.06 51.01 L596.18 48.63 L597.30 46.46 L598.41 44.52 L599.53 42.82 L600.65 41.35 L601.77 40.12 L602.89 39.13 L604.01 38.39 L605.13 37.89 L606.25 37.65 L607.37 37.65 L608.49 37.90 L609.61 38.40 L610.73 39.15 L611.85 40.14 L612.97 41.38 L614.09 42.85 L615.21 44.57 L616.33 46.51 L617.45 48.68 L618.56 51.07 L619.68 53.68 L620.80 56.49 L621.91 59.51 L623.03 62.72 L624.14 66.12 L625.25 69.69 L626.36 73.43 L627.47 77.33 L628.58 81.38 L629.69 85.57 L630.80 89.89 L631.91 94.32 L633.01 98.86 L634.12 103.49 L635.22 108.21 L636.32 113.00 L637.42 117.84 L638.52 122.74 L639.62 127.66 L640.72 132.61 L641.81 137.57 L642.91 142.53 L644.00 147.46 L645.09 152.38 L646.18 157.25 L647.27 162.06 L648.36 166.82 L649.44 171.49 L650.53 176.08 L651.61 180.56 L652.70 184.94 L653.78 189.19 L654.86 193.30 L655.94 197.28 L657.02 201.09 L658.10 204.75 L659.18 208.23 L660.25 211.53 L661.33 214.64 L662.40 217.55 L663.48 220.26 L664.55 222.76 L665.62 225.03 L666.70 227.09 L667.77 228.91 L668.84 230.50 L669.91 231.85 L670.98 232.96 L672.05 233.82 L673.12 234.44 L674.19 234.81 L675.26 234.93 L676.33 234.81 L677.40 234.43 L678.47 233.80 L679.54 232.93 L680.61 231.82 L681.68 230.46 L682.76 228.87" stroke="#EDB120" stroke-width="0.45"/>
<path d="M415.39 214.29 L416.47 211.13 L417.54 207.78 L418.62 204.25 L419.70 200.55 L420.78 196.69 L421.86 192.68 L422.94 188.52 L424.02 184.24 L425.11 179.84 L426.19 175.33 L427.28 170.72 L428.36 166.03 L429.45 161.26 L430.54 156.43 L431.63 151.56 L432.73 146.64 L433.82 141.70 L434.91 136.75 L436.01 131.80 L437.11 126.87 L438.21 121.95 L439.30 117.08 L440.41 112.26 L441.51 107.49 L442.61 102.81 L443.72 98.21 L444.82 93.70 L445.93 89.31 L447.04 85.03 L448.14 80.89 L449.25 76.89 L450.37 73.04 L451.48 69.35 L452.59 65.84 L453.70 62.50 L454.82 59.35 L455.93 56.39 L457.05 53.64 L458.17 51.10 L459.28 48.78 L460.40 46.68 L461.52 44.81 L462.64 43.17 L463.76 41.77 L464.88 40.60 L466.00 39.68 L467.12 39.01 L468.24 38.58 L469.36 38.41 L470.48 38.48 L471.60 38.80 L472.72 39.36 L473.84 40.18 L474.96 41.24 L476.08 42.54 L477.20 44.08 L478.32 45.85 L479.44 47.85 L480.55 50.08 L481.67 52.53 L482.79 55.19 L483.90 58.06 L485.02 61.12 L486.13 64.38 L487.24 67.82 L488.36 71.44 L489.47 75.22 L490.58 79.16 L491.69 83.24 L492.80 87.46 L493.90 91.80 L495.01 96.26 L496.11 100.82 L497.22 105.47 L498.32 110.20 L499.42 115.00 L500.52 119.85 L501.62 124.75 L502.72 129.68 L503.82 134.63 L504.91 139.58 L506.00 144.52 L507.10 149.45 L508.19 154.34 L509.28 159.19 L510.37 163.99 L511.46 168.71 L512.54 173.36 L513.63 177.91 L514.71 182.36 L515.79 186.70 L516.88 190.91 L517.96 194.98 L519.04 198.91 L520.12 202.68 L521.19 206.28 L522.27 209.71 L523.35 212.96 L524.42 216.01 L525.50 218.86 L526.57 221.51 L527.64 223.94 L528.72 226.15 L529.79 228.14 L530.86 229.90 L531.93 231.42 L533.00 232.70 L534.07 233.74 L535.14 234.54 L536.22 235.09 L537.29 235.39 L538.36 235.44 L539.43 235.25 L540.50 234.81 L541.57 234.11 L542.64 233.18 L543.71 232.00 L544.78 230.58 L545.85 228.92 L546.92 227.03 L547.99 224.92 L549.07 222.58 L550.14 220.02 L551.22 217.26 L552.29 214.29 L553.37 211.13 L554.44 207.78 L555.52 204.25 L556.60 200.55 L557.68 196.69 L558.76 192.68 L559.84 188.52 L560.92 184.24 L562.01 179.84 L563.09 175.33 L564.18 170.72 L565.26 166.03 L566.35 161.26 L567.44 156.43 L568.53 151.56 L569.63 146.64 L570.72 141.70 L571.81 136.75 L572.91 131.80 L574.01 126.87 L575.11 121.95 L576.20 117.08 L577.31 112.26 L578.41 107.49 L579.51 102.81 L580.62 98.21 L581.72 93.70 L582.83 89.31 L583.94 85.03 L585.04 80.89 L586.15 76.89 L587.27 73.04 L588.38 69.35 L589.49 65.84 L590.60 62.50 L591.72 59.35 L592.83 56.39 L593.95 53.64 L595.07 51.10 L596.18 48.78 L597.30 46.68 L598.42 44.81 L599.54 43.17 L600.66 41.77 L601.78 40.60 L602.90 39.68 L604.02 39.01 L605.14 38.58 L606.26 38.41 L607.38 38.48 L608.50 38.80 L609.62 39.36 L610.74 40.18 L611.86 41.24 L612.98 42.54 L614.10 44.08 L615.22 45.85 L616.34 47.85 L617.45 50.08 L618.57 52.53 L619.69 55.19 L620.80 58.06 L621.92 61.12 L623.03 64.38 L624.14 67.82 L625.26 71.44 L626.37 75.22 L627.48 79.16 L628.59 83.24 L629.70 87.46 L630.80 91.80 L631.91 96.26 L633.01 100.82 L634.12 105.47 L635.22 110.20 L636.32 115.00 L637.42 119.85 L638.52 124.75 L639.62 129.68 L640.72 134.63 L641.81 139.58 L642.90 144.52 L644.00 149.45 L645.09 154.34 L646.18 159.19 L647.27 163.99 L648.36 168.71 L649.44 173.36 L650.53 177.91 L651.61 182.36 L652.69 186.70 L653.78 190.91 L654.86 194.98 L655.94 198.91 L657.02 202.68 L658.09 206.28 L659.17 209.71 L660.25 212.96 L661.32 216.01 L662.40 218.86 L663.47 221.51 L664.54 223.94 L665.62 226.15 L666.69 228.14 L667.76 229.90 L668.83 231.42 L669.90 232.70 L670.97 233.74 L672.04 234.54 L673.12 235.09 L674.19 235.39 L675.26 235.44 L676.33 235.25 L677.40 234.81 L678.47 234.11 L679.54 233.18 L680.61 232.00 L681.68 230.58 L682.75 228.92" stroke="#77AC30" stroke-width="0.45"/>
<path d="M415.40 213.35 L416.47 210.25 L417.55 206.96 L418.63 203.48 L419.70 199.84 L420.78 196.03 L421.86 192.07 L422.94 187.97 L424.03 183.73 L425.11 179.37 L426.19 174.90 L427.28 170.33 L428.37 165.67 L429.45 160.94 L430.54 156.14 L431.63 151.29 L432.73 146.40 L433.82 141.48 L434.91 136.54 L436.01 131.60 L437.11 126.67 L438.20 121.77 L439.30 116.89 L440.40 112.07 L441.51 107.30 L442.61 102.60 L443.71 97.99 L444.82 93.47 L445.92 89.06 L447.03 84.76 L448.14 80.59 L449.25 76.56 L450.36 72.68 L451.47 68.96 L452.59 65.40 L453.70 62.02 L454.81 58.83 L455.93 55.83 L457.04 53.03 L458.16 50.44 L459.28 48.06 L460.40 45.91 L461.51 43.98 L462.63 42.28 L463.75 40.81 L464.87 39.59 L465.99 38.60 L467.11 37.86 L468.23 37.37 L469.35 37.12 L470.47 37.13 L471.59 37.38 L472.71 37.88 L473.83 38.62 L474.95 39.61 L476.07 40.84 L477.19 42.31 L478.31 44.02 L479.43 45.95 L480.55 48.11 L481.66 50.49 L482.78 53.09 L483.90 55.90 L485.01 58.90 L486.13 62.10 L487.24 65.48 L488.35 69.04 L489.46 72.77 L490.57 76.65 L491.68 80.69 L492.79 84.86 L493.90 89.16 L495.01 93.57 L496.11 98.09 L497.22 102.71 L498.32 107.41 L499.42 112.18 L500.52 117.00 L501.62 121.88 L502.72 126.78 L503.82 131.71 L504.91 136.65 L506.01 141.59 L507.10 146.51 L508.19 151.40 L509.28 156.25 L510.37 161.05 L511.46 165.78 L512.54 170.44 L513.63 175.00 L514.71 179.47 L515.80 183.83 L516.88 188.06 L517.96 192.16 L519.04 196.12 L520.12 199.92 L521.20 203.56 L522.28 207.03 L523.35 210.32 L524.43 213.42 L525.50 216.32 L526.58 219.02 L527.65 221.50 L528.72 223.77 L529.80 225.81 L530.87 227.63 L531.94 229.21 L533.01 230.55 L534.08 231.66 L535.15 232.52 L536.22 233.14 L537.29 233.51 L538.36 233.63 L539.43 233.50 L540.50 233.13 L541.57 232.50 L542.64 231.64 L543.71 230.53 L544.78 229.18 L545.86 227.59 L546.93 225.77 L548.00 223.72 L549.07 221.45 L550.15 218.96 L551.22 216.26 L552.30 213.35 L553.37 210.25 L554.45 206.96 L555.53 203.48 L556.60 199.84 L557.68 196.03 L558.76 192.07 L559.84 187.97 L560.93 183.73 L562.01 179.37 L563.09 174.90 L564.18 170.33 L565.27 165.67 L566.35 160.94 L567.44 156.14 L568.53 151.29 L569.63 146.40 L570.72 141.48 L571.81 136.54 L572.91 131.60 L574.01 126.67 L575.10 121.77 L576.20 116.89 L577.30 112.07 L578.41 107.30 L579.51 102.60 L580.61 97.99 L581.72 93.47 L582.82 89.06 L583.93 84.76 L585.04 80.59 L586.15 76.56 L587.26 72.68 L588.37 68.96 L589.49 65.40 L590.60 62.02 L591.71 58.83 L592.83 55.83 L593.94 53.03 L595.06 50.44 L596.18 48.06 L597.30 45.91 L598.41 43.98 L599.53 42.28 L600.65 40.81 L601.77 39.59 L602.89 38.60 L604.01 37.86 L605.13 37.37 L606.25 37.12 L607.37 37.13 L608.49 37.38 L609.61 37.88 L610.73 38.62 L611.85 39.61 L612.97 40.84 L614.09 42.31 L615.21 44.02 L616.33 45.95 L617.45 48.11 L618.56 50.49 L619.68 53.09 L620.80 55.90 L621.91 58.90 L623.03 62.10 L624.14 65.48 L625.25 69.04 L626.36 72.77 L627.47 76.65 L628.58 80.69 L629.69 84.86 L630.80 89.16 L631.91 93.57 L633.01 98.09 L634.12 102.71 L635.22 107.41 L636.32 112.18 L637.42 117.00 L638.52 121.88 L639.62 126.78 L640.72 131.71 L641.81 136.65 L642.91 141.59 L644.00 146.51 L645.09 151.40 L646.18 156.25 L647.27 161.05 L648.36 165.78 L649.44 170.44 L650.53 175.00 L651.61 179.47 L652.70 183.83 L653.78 188.06 L654.86 192.16 L655.94 196.12 L657.02 199.92 L658.10 203.56 L659.18 207.03 L660.25 210.32 L661.33 213.42 L662.40 216.32 L663.48 219.02 L664.55 221.50 L665.62 223.77 L666.70 225.81 L667.77 227.63 L668.84 229.21 L669.91 230.55 L670.98 231.66 L672.05 232.52 L673.12 233.14 L674.19 233.51 L675.26 233.63 L676.33 233.50 L677.40 233.13 L678.47 232.50 L679.54 231.64 L680.61 230.53 L681.68 229.18 L682.76 227.59" stroke="#D95319" stroke-width="0.5"/>
<path d="M415.41 216.98 L416.48 214.14 L417.56 211.11 L418.63 207.91 L419.71 204.55 L420.79 201.02 L421.87 197.34 L422.95 193.52 L424.03 189.58 L425.12 185.50 L426.20 181.32 L427.29 177.04 L428.37 172.67 L429.46 168.22 L430.55 163.70 L431.64 159.12 L432.73 154.50 L433.82 149.85 L434.91 145.18 L436.01 140.50 L437.10 135.82 L438.20 131.15 L439.30 126.51 L440.40 121.91 L441.50 117.36 L442.60 112.86 L443.71 108.45 L444.81 104.11 L445.92 99.87 L447.03 95.73 L448.13 91.71 L449.24 87.82 L450.35 84.06 L451.46 80.45 L452.58 76.99 L453.69 73.69 L454.80 70.56 L455.92 67.62 L457.03 64.86 L458.15 62.29 L459.27 59.93 L460.38 57.77 L461.50 55.82 L462.62 54.09 L463.74 52.57 L464.86 51.29 L465.98 50.23 L467.10 49.40 L468.22 48.81 L469.34 48.44 L470.46 48.32 L471.58 48.43 L472.70 48.77 L473.82 49.35 L474.94 50.16 L476.06 51.20 L477.18 52.47 L478.30 53.97 L479.42 55.68 L480.53 57.62 L481.65 59.76 L482.77 62.11 L483.89 64.66 L485.00 67.41 L486.12 70.34 L487.23 73.45 L488.34 76.74 L489.45 80.19 L490.57 83.79 L491.68 87.54 L492.79 91.42 L493.89 95.44 L495.00 99.56 L496.11 103.80 L497.21 108.13 L498.32 112.54 L499.42 117.03 L500.52 121.57 L501.62 126.17 L502.72 130.81 L503.81 135.47 L504.91 140.15 L506.01 144.84 L507.10 149.51 L508.19 154.16 L509.28 158.79 L510.37 163.37 L511.46 167.89 L512.55 172.34 L513.64 176.72 L514.72 181.01 L515.80 185.20 L516.89 189.28 L517.97 193.24 L519.05 197.07 L520.13 200.76 L521.21 204.29 L522.29 207.67 L523.36 210.89 L524.44 213.92 L525.51 216.78 L526.59 219.44 L527.66 221.91 L528.74 224.17 L529.81 226.22 L530.88 228.07 L531.95 229.69 L533.02 231.09 L534.09 232.26 L535.17 233.20 L536.24 233.92 L537.31 234.39 L538.38 234.64 L539.45 234.65 L540.52 234.42 L541.59 233.96 L542.66 233.26 L543.73 232.34 L544.80 231.18 L545.87 229.80 L546.94 228.19 L548.01 226.37 L549.09 224.33 L550.16 222.08 L551.23 219.63 L552.31 216.98 L553.38 214.14 L554.46 211.11 L555.53 207.91 L556.61 204.55 L557.69 201.02 L558.77 197.34 L559.85 193.52 L560.93 189.58 L562.02 185.50 L563.10 181.32 L564.19 177.04 L565.27 172.67 L566.36 168.22 L567.45 163.70 L568.54 159.12 L569.63 154.50 L570.72 149.85 L571.81 145.18 L572.91 140.50 L574.00 135.82 L575.10 131.15 L576.20 126.51 L577.30 121.91 L578.40 117.36 L579.50 112.86 L580.61 108.45 L581.71 104.11 L582.82 99.87 L583.93 95.73 L585.03 91.71 L586.14 87.82 L587.25 84.06 L588.36 80.45 L589.48 76.99 L590.59 73.69 L591.70 70.56 L592.82 67.62 L593.93 64.86 L595.05 62.29 L596.17 59.93 L597.28 57.77 L598.40 55.82 L599.52 54.09 L600.64 52.57 L601.76 51.29 L602.88 50.23 L604.00 49.40 L605.12 48.81 L606.24 48.44 L607.36 48.32 L608.48 48.43 L609.60 48.77 L610.72 49.35 L611.84 50.16 L612.96 51.20 L614.08 52.47 L615.20 53.97 L616.32 55.68 L617.43 57.62 L618.55 59.76 L619.67 62.11 L620.79 64.66 L621.90 67.41 L623.02 70.34 L624.13 73.45 L625.24 76.74 L626.35 80.19 L627.47 83.79 L628.58 87.54 L629.69 91.42 L630.79 95.44 L631.90 99.56 L633.01 103.80 L634.11 108.13 L635.22 112.54 L636.32 117.03 L637.42 121.57 L638.52 126.17 L639.62 130.81 L640.71 135.47 L641.81 140.15 L642.91 144.84 L644.00 149.51 L645.09 154.16 L646.18 158.79 L647.27 163.37 L648.36 167.89 L649.45 172.34 L650.54 176.72 L651.62 181.01 L652.70 185.20 L653.79 189.28 L654.87 193.24 L655.95 197.07 L657.03 200.76 L658.11 204.29 L659.19 207.67 L660.26 210.89 L661.34 213.92 L662.41 216.78 L663.49 219.44 L664.56 221.91 L665.64 224.17 L666.71 226.22 L667.78 228.07 L668.85 229.69 L669.92 231.09 L670.99 232.26 L672.07 233.20 L673.14 233.92 L674.21 234.39 L675.28 234.64 L676.35 234.65 L677.42 234.42 L678.49 233.96 L679.56 233.26 L680.63 232.34 L681.70 231.18 L682.77 229.80" stroke="#7E2F8E" stroke-width="0.4"/>
</g>
<path d="M420.5 247.20h3.4 M420.5 221.10h3.4 M420.5 195.00h3.4 M420.5 168.90h3.4 M420.5 142.80h3.4 M420.5 116.70h3.4 M420.5 90.60h3.4 M420.5 64.50h3.4 M420.5 38.40h3.4 M431.30 252.6v-3.2 M458.77 252.6v-3.2 M486.24 252.6v-3.2 M513.71 252.6v-3.2 M541.18 252.6v-3.2 M568.65 252.6v-3.2 M596.12 252.6v-3.2 M623.59 252.6v-3.2 M651.06 252.6v-3.2" stroke="#777" stroke-width="0.45" fill="none"/>
<rect x="420.5" y="26.0" width="258.0" height="226.6" fill="none" stroke="#161616" stroke-width="1.35"/>
<text x="419.00" y="249.70" font-size="6.9" text-anchor="end" fill="#262626">0</text>
<text x="419.00" y="223.60" font-size="6.9" text-anchor="end" fill="#262626">1</text>
<text x="419.00" y="197.50" font-size="6.9" text-anchor="end" fill="#262626">2</text>
<text x="419.00" y="171.40" font-size="6.9" text-anchor="end" fill="#262626">3</text>
<text x="419.00" y="145.30" font-size="6.9" text-anchor="end" fill="#262626">4</text>
<text x="419.00" y="119.20" font-size="6.9" text-anchor="end" fill="#262626">5</text>
<text x="419.00" y="93.10" font-size="6.9" text-anchor="end" fill="#262626">6</text>
<text x="419.00" y="67.00" font-size="6.9" text-anchor="end" fill="#262626">7</text>
<text x="419.00" y="40.90" font-size="6.9" text-anchor="end" fill="#262626">8</text>
<text x="432.40" y="261.55" font-size="7.3" text-anchor="middle" fill="#262626">1.7982</text>
<text x="459.87" y="261.55" font-size="7.3" text-anchor="middle" fill="#262626">1.7984</text>
<text x="487.34" y="261.55" font-size="7.3" text-anchor="middle" fill="#262626">1.7986</text>
<text x="514.81" y="261.55" font-size="7.3" text-anchor="middle" fill="#262626">1.7988</text>
<text x="542.28" y="261.55" font-size="7.3" text-anchor="middle" fill="#262626">1.799</text>
<text x="569.75" y="261.55" font-size="7.3" text-anchor="middle" fill="#262626">1.7992</text>
<text x="597.22" y="261.55" font-size="7.3" text-anchor="middle" fill="#262626">1.7994</text>
<text x="624.69" y="261.55" font-size="7.3" text-anchor="middle" fill="#262626">1.7996</text>
<text x="652.16" y="261.55" font-size="7.3" text-anchor="middle" fill="#262626">1.7998</text>
<text x="679.63" y="261.55" font-size="7.3" text-anchor="middle" fill="#262626">1.8</text>
<text x="420.6" y="24.3" font-size="7.4" fill="#333"><tspan fill="#666">×</tspan><tspan dx="0.3">10</tspan><tspan dx="0.4" dy="-3.3" font-size="5.3">6</tspan></text>
<text x="669.8" y="273.0" font-size="7.4" fill="#333"><tspan fill="#666">×</tspan><tspan dx="0.3">10</tspan><tspan dx="0.6" dy="-3.6" font-size="5.3">5</tspan></text>
<text x="535.0" y="23.75" font-size="8.6" font-weight="bold" text-anchor="middle" fill="#111">Seismic Nodes</text>
<text x="552.0" y="280.5" font-size="9.6" text-anchor="middle" fill="#262626"># Samples</text>
<text transform="translate(403.0 137.4) rotate(-90)" font-size="9.72" text-anchor="middle" fill="#262626">Amplitude (counts)</text>
<rect x="635.4" y="28.2" width="40.10000000000002" height="52.0" fill="#fff" stroke="#cfcfcf" stroke-width="0.6"/>
<path d="M637.10 33.15H649.40" stroke="#0072BD" stroke-width="1.5" fill="none"/>
<text x="649.80" y="35.70" font-size="7.25" fill="#111" stroke="#111" stroke-width="0.1">C1-N1</text>
<path d="M637.10 41.67H649.40" stroke="#D95319" stroke-width="1.5" fill="none"/>
<text x="649.80" y="44.22" font-size="7.25" fill="#111" stroke="#111" stroke-width="0.1">C1-N2</text>
<path d="M637.10 50.19H649.40" stroke="#EDB120" stroke-width="1.5" fill="none"/>
<text x="649.80" y="52.74" font-size="7.25" fill="#111" stroke="#111" stroke-width="0.1">C1-N3</text>
<path d="M637.10 58.71H649.40" stroke="#7E2F8E" stroke-width="1.5" fill="none"/>
<text x="649.80" y="61.26" font-size="7.25" fill="#111" stroke="#111" stroke-width="0.1">C1-N4</text>
<path d="M637.10 67.23H649.40" stroke="#77AC30" stroke-width="1.5" fill="none"/>
<text x="649.80" y="69.78" font-size="7.25" fill="#111" stroke="#111" stroke-width="0.1">C1-N5</text>
<path d="M637.10 75.75H649.40" stroke="#4DBEEE" stroke-width="1.5" fill="none"/>
<text x="649.80" y="78.30" font-size="7.25" fill="#111" stroke="#111" stroke-width="0.1">C1-N6</text>
<circle cx="692.65" cy="132.9" r="36.0" fill="#fff" stroke="none"/>
<clipPath id="mg2"><circle cx="692.65" cy="132.9" r="36.0"/></clipPath>
<g clip-path="url(#mg2)" fill="none" stroke-width="1.0">
<path d="M673.33 53.60L707.47 212.50" stroke="#0072BD" stroke-width="0.35"/>
<path d="M673.94 53.60L709.46 212.50" stroke="#D95319" stroke-width="1.1"/>
<path d="M672.06 53.60L704.34 212.50" stroke="#EDB120" stroke-width="0.6"/>
<path d="M673.47 53.60L708.53 212.50" stroke="#7E2F8E" stroke-width="1.2"/>
<path d="M672.69 53.60L705.21 212.50" stroke="#77AC30" stroke-width="1.7"/>
<path d="M673.13 53.60L706.57 212.50" stroke="#4DBEEE" stroke-width="0.6"/>
</g>
<circle cx="692.65" cy="132.9" r="36.0" fill="none" stroke="#111" stroke-width="1.35"/>
<path d="M666.5 158.1L659.8 165.8" stroke="#000" stroke-width="1.25" fill="none"/>
<path d="M652.6 173.3L655.7 162.0L663.9 169.5Z" fill="#000"/>
<text x="380.2" y="15.6" font-size="14" letter-spacing="0.42" fill="#111" stroke="#111" stroke-width="0.15">(b)</text>
</g>
</svg>
</body></html>
